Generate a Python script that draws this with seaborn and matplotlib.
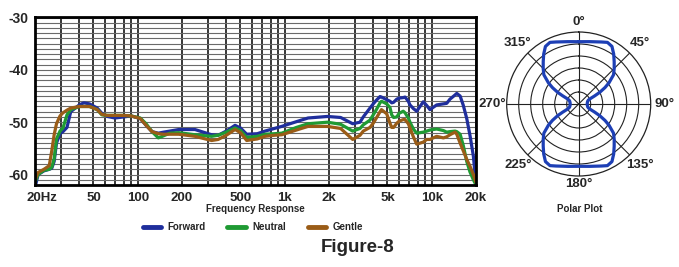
import numpy as np
import pandas as pd
import matplotlib
matplotlib.use("Agg")
import matplotlib.pyplot as plt
import matplotlib.transforms as mtransforms
import matplotlib.ticker as mticker
import seaborn as sns

# ---------------- data ----------------
freq = [20, 21, 23, 25, 26, 27, 28, 29.6, 31, 33, 35, 40, 43, 47, 53, 57, 62, 70, 80, 90,
        104, 114, 125, 138, 150, 165, 190, 245, 318, 352, 400, 459, 500, 551, 650, 734, 850,
        954, 1200, 1440, 1950, 2400, 2900, 3250, 3420, 3800, 4000, 4200, 4450, 4550, 4940,
        5200, 5340, 5500, 5780, 6000, 6400, 6580, 6930, 7110, 7500, 7900, 8760, 9240, 9720,
        10800, 12000, 12640, 13300, 14400, 14800, 15600, 16400, 17300, 18200, 19200, 20000]

forward = [-62.5, -60.0, -59.3, -59.0, -58.8, -57.5, -54.0, -52.2, -51.8, -51.0, -48.0, -46.7,
           -46.3, -46.5, -47.3, -48.3, -48.9, -49.2, -49.0, -48.8, -49.3, -50.6, -51.8, -52.1,
           -51.9, -51.7, -51.4, -51.4, -52.4, -52.5, -51.7, -50.6, -51.1, -52.3, -52.2, -51.7,
           -51.2, -50.8, -49.9, -49.2, -48.9, -49.1, -50.3, -50.0, -49.0, -47.3, -46.5, -45.8,
           -45.1, -45.2, -45.7, -46.0, -46.3, -46.2, -45.6, -45.4, -45.3, -45.2, -46.0, -46.7,
           -47.4, -47.9, -46.1, -46.8, -47.6, -46.7, -46.5, -46.4, -45.6, -44.8, -44.5, -45.0,
           -46.8, -49.3, -52.5, -56.5, -62.0]

neutral = [-61.5, -60.0, -59.2, -59.0, -58.6, -57.0, -53.2, -51.7, -51.1, -48.6, -47.6, -47.0,
           -47.0, -47.0, -47.6, -48.6, -48.7, -48.7, -48.7, -48.8, -49.2, -50.3, -51.8, -53.0,
           -52.6, -52.1, -52.0, -52.4, -52.7, -52.5, -51.9, -51.1, -51.6, -52.9, -52.7, -52.3,
           -52.2, -52.1, -51.0, -50.3, -50.0, -50.4, -51.7, -51.2, -50.5, -49.6, -48.6, -47.6,
           -46.3, -46.0, -46.5, -47.2, -48.6, -49.1, -49.0, -48.3, -47.9, -48.2, -49.2, -50.0,
           -51.3, -52.1, -51.9, -51.7, -51.5, -51.3, -51.6, -51.9, -51.8, -51.7, -51.8, -52.3,
           -54.5, -57.5, -59.5, -61.0, -62.0]

gentle = [-61.0, -59.6, -59.0, -58.3, -55.5, -52.4, -50.3, -48.8, -48.2, -47.7, -47.3, -47.0,
          -47.0, -47.0, -47.6, -48.5, -48.7, -48.7, -48.7, -48.8, -49.3, -50.6, -51.8, -52.2,
          -52.3, -52.3, -52.3, -52.7, -53.5, -53.3, -52.5, -51.4, -52.0, -53.5, -53.2, -52.7,
          -52.5, -52.4, -51.5, -50.8, -50.8, -51.2, -53.3, -52.5, -51.7, -51.0, -50.2, -49.2,
          -48.0, -47.6, -48.4, -50.2, -51.0, -51.0, -50.2, -49.8, -49.5, -49.5, -50.3, -51.1,
          -52.8, -54.2, -53.8, -53.3, -53.3, -52.7, -53.0, -52.8, -52.4, -51.9, -52.3, -54.0,
          -55.5, -57.1, -58.4, -60.0, -61.5]

series_names = ["Forward", "Neutral", "Gentle"]
series_colors = ["#1f2e9c", "#1f9a33", "#9a5c17"]

x_ticks = [20, 50, 100, 200, 500, 1000, 2000, 5000, 10000, 20000]
x_labels = ["20Hz", "50", "100", "200", "500", "1k", "2k", "5k", "10k", "20k"]
y_ticks = [-30, -40, -50, -60]
y_labels = ["-30", "-40", "-50", "-60"]

polar_theta = [0, 10, 20, 25, 30, 35, 40, 45, 50, 55, 58, 61, 63, 65, 68, 72, 80, 90,
               100, 108, 112, 115, 117, 119, 122, 125, 130, 135, 140, 145, 150, 155, 160, 170, 180,
               190, 200, 205, 210, 215, 220, 225, 230, 235, 238, 241, 243, 245, 248, 252, 260, 270,
               280, 288, 292, 295, 297, 299, 302, 305, 310, 315, 320, 325, 330, 335, 340, 350, 360]
polar_r = [62.3, 63.3, 66.0, 68.0, 66.5, 61.0, 55.2, 50.2, 45.5, 37.0, 31.0, 24.0, 18.0, 13.0, 10.5, 9.5, 8.8, 8.5,
           8.8, 9.5, 10.5, 13.0, 18.0, 24.0, 31.0, 37.0, 45.5, 50.2, 55.2, 61.0, 66.5, 68.0, 66.0, 63.3, 62.3,
           63.3, 66.0, 68.0, 66.5, 61.0, 55.2, 50.2, 45.5, 37.0, 31.0, 24.0, 18.0, 13.0, 10.5, 9.5, 8.8, 8.5,
           8.8, 9.5, 10.5, 13.0, 18.0, 24.0, 31.0, 37.0, 45.5, 50.2, 55.2, 61.0, 66.5, 68.0, 66.0, 63.3, 62.3]
polar_angles = [0, 45, 90, 135, 180, 225, 270, 315]
polar_labels = ["0°", "45°", "90°", "135°", "180°", "225°", "270°", "315°"]
polar_rings = [12, 24, 36, 48, 60]

# ---------------- figure ----------------
sns.set_theme(style="white")
plt.rcParams["font.family"] = ["Liberation Sans", "DejaVu Sans"]
plt.rcParams["font.weight"] = "bold"

W, H = 679, 267
fig = plt.figure(figsize=(W / 100, H / 100), dpi=100)
fig.patch.set_facecolor("white")

ax = fig.add_axes([35 / W, 1 - 185 / H, (476 - 35) / W, (185 - 17) / H])

df = pd.DataFrame({
    "freq": freq * 3,
    "level": forward + neutral + gentle,
    "series": [series_names[0]] * len(freq) + [series_names[1]] * len(freq) + [series_names[2]] * len(freq),
})
sns.lineplot(data=df, x="freq", y="level", hue="series", hue_order=series_names,
             palette=series_colors, linewidth=2.3, ax=ax, legend=True, sort=False, zorder=5)

ax.set_xscale("log")
ax.set_xlim(20, 20000)
ax.set_ylim(-62, -29.9)

ax.set_xticks(x_ticks)
ax.set_xticklabels(x_labels)
ax.xaxis.set_minor_locator(mticker.LogLocator(base=10, subs=np.arange(1, 10)))
ax.xaxis.set_minor_formatter(mticker.NullFormatter())
ax.set_yticks(y_ticks)
ax.set_yticklabels(y_labels)
ax.yaxis.set_minor_locator(mticker.MultipleLocator(1))

ax.set_axisbelow(True)
ax.grid(False)
ax.grid(True, which="both", axis="y", color="#6a6a6a", lw=0.8)
ax.grid(True, which="both", axis="x", color="black", lw=1.1)

ax.tick_params(axis="both", which="both", length=0, labelsize=9.5, pad=5)
ax.tick_params(axis="y", labelsize=10)
for lab in ax.get_xticklabels() + ax.get_yticklabels():
    lab.set_fontweight("bold")
first = ax.get_xticklabels()[0]
first.set_transform(first.get_transform() + mtransforms.ScaledTranslation(7 / 100, 0, fig.dpi_scale_trans))

ax.set_xlabel("")
ax.set_ylabel("")
for sp in ax.spines.values():
    sp.set_visible(True)
    sp.set_color("black")
    sp.set_linewidth(2.0)
    sp.set_zorder(6)

handles, labels = ax.get_legend_handles_labels()
ax.get_legend().remove()
for h in handles:
    h.set_linewidth(3.5)
fig.legend(handles, labels, loc="center", bbox_to_anchor=(253 / W, 1 - 227 / H), ncol=3,
           frameon=False, handlelength=1.9, handletextpad=0.7, columnspacing=2.2,
           prop={"weight": "bold", "size": 7})

fig.text(255 / W, 1 - 208.5 / H, "Frequency Response", ha="center", va="center",
         fontsize=7, fontweight="bold")
fig.text(357.5 / W, 1 - 248 / H, "Figure-8", ha="center", va="center",
         fontsize=13.5, fontweight="bold")

# ---------------- polar ----------------
cx, cy, R = 578.7, 104, 72
pax = fig.add_axes([(cx - R) / W, 1 - (cy + R) / H, 2 * R / W, 2 * R / H], projection="polar")
pax.set_theta_zero_location("N")
pax.set_theta_direction(-1)
pax.plot(np.deg2rad(polar_theta), polar_r, color="#1d3fb5", lw=2.3, zorder=5)
pax.set_ylim(0, 72)
pax.set_yticks(polar_rings)
pax.set_yticklabels([])
pax.set_thetagrids(polar_angles, [""] * len(polar_angles))
pax.tick_params(axis="x", length=0)
label_r = {0: 82, 180: 80}
for ang, txt in zip(polar_angles, polar_labels):
    pax.text(np.deg2rad(ang), label_r.get(ang, 86), txt, ha="center", va="center",
             fontsize=9.5, fontweight="bold", clip_on=False)
pax.grid(True, color="#222222", lw=0.8)
pax.spines["polar"].set_color("#222222")
pax.spines["polar"].set_linewidth(0.9)
pax.set_facecolor("white")

fig.text(580 / W, 1 - 208.5 / H, "Polar Plot", ha="center", va="center",
         fontsize=7, fontweight="bold")

fig.savefig("out.png", dpi=100, facecolor="white")
